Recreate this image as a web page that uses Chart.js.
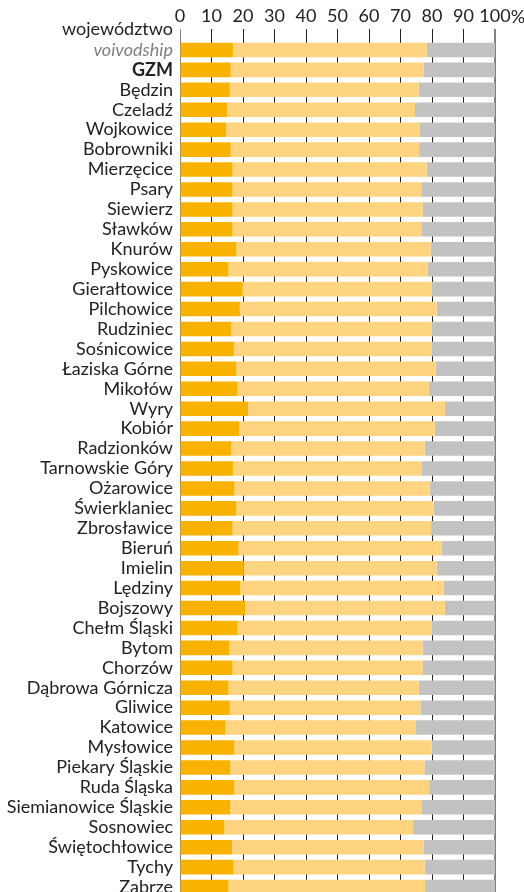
<!DOCTYPE html>
<html>
<head>
<meta charset="utf-8">
<script src="https://cdn.jsdelivr.net/npm/chart.js@4"></script>
<style>
  html, body { margin: 0; padding: 0; background: #fff; overflow: hidden; }
  #wrap { position: relative; width: 524px; height: 897px; }
</style>
</head>
<body>
<div id="wrap"><canvas id="c"></canvas></div>
<script>
const headerLabel = "województwo";
const categories = ["voivodship","GZM","Będzin","Czeladź","Wojkowice","Bobrowniki","Mierzęcice","Psary","Siewierz","Sławków","Knurów","Pyskowice","Gierałtowice","Pilchowice","Rudziniec","Sośnicowice","Łaziska Górne","Mikołów","Wyry","Kobiór","Radzionków","Tarnowskie Góry","Ożarowice","Świerklaniec","Zbrosławice","Bieruń","Imielin","Lędziny","Bojszowy","Chełm Śląski","Bytom","Chorzów","Dąbrowa Górnicza","Gliwice","Katowice","Mysłowice","Piekary Śląskie","Ruda Śląska","Siemianowice Śląskie","Sosnowiec","Świętochłowice","Tychy","Zabrze"];
const seriesA = [16.8,16.1,15.8,14.9,14.6,16.1,16.7,16.7,16.7,16.7,17.9,15.4,19.9,19.0,16.3,17.1,17.9,18.3,21.6,18.8,16.3,16.8,17.3,17.9,16.7,18.6,20.1,19.2,20.8,18.3,15.7,16.7,15.4,15.8,14.4,17.3,15.9,17.3,15.9,14.1,16.5,17.0,15.4];
const seriesB = [61.5,61.2,60.0,59.7,61.6,59.8,61.6,59.9,60.4,59.9,61.7,63.2,60.1,62.5,63.7,62.9,63.3,60.7,62.5,62.1,61.4,60.0,62.0,62.6,63.0,64.5,61.4,64.5,63.3,61.7,61.3,60.4,60.4,60.5,60.3,62.6,61.7,61.8,60.7,59.9,60.8,60.7,62.4];
const seriesC = [21.7,22.7,24.2,25.4,23.8,24.1,21.7,23.4,22.9,23.4,20.4,21.4,20.0,18.5,20.0,20.0,18.8,21.0,15.9,19.1,22.3,23.2,20.7,19.5,20.3,16.9,18.5,16.3,15.9,20.0,23.0,22.9,24.2,23.7,25.3,20.1,22.4,20.9,23.4,26.0,22.7,22.3,22.2];
const xTicks = [0,10,20,30,40,50,60,70,80,90,100];
const pctSuffix = "%";

const FONT = "Lato";
const FSIZE = 18;
const headerPlugin = {
  id: 'header',
  afterDraw(chart) {
    const ctx = chart.ctx;
    const xs = chart.scales.x;
    ctx.save();
    ctx.font = FSIZE + "px " + FONT;
    ctx.fillStyle = "#222";
    ctx.textAlign = "right";
    ctx.textBaseline = "middle";
    ctx.fillText(headerLabel, chart.chartArea.left - 7, 29);
    const lastVal = xTicks[xTicks.length - 1];
    const w = ctx.measureText(String(lastVal)).width;
    ctx.textAlign = "left";
    ctx.fillText(pctSuffix, xs.getPixelForValue(lastVal) + w / 2, 17);
    ctx.restore();
  }
};

new Chart(document.getElementById('c'), {
  type: 'bar',
  data: {
    labels: categories,
    datasets: [
      { data: seriesA, backgroundColor: '#FAB200' },
      { data: seriesB, backgroundColor: '#FED480' },
      { data: seriesC, backgroundColor: '#C2C2C2' }
    ]
  },
  options: {
    indexAxis: 'y',
    responsive: true,
    maintainAspectRatio: false,
    animation: false,
    layout: { padding: { left: 0, right: 29, top: 0, bottom: 0 } },
    datasets: { bar: { barPercentage: 0.73, categoryPercentage: 1.0, borderWidth: 0 } },
    plugins: { legend: { display: false }, tooltip: { enabled: false } },
    scales: {
      x: {
        position: 'top',
        stacked: true,
        min: 0, max: 100,
        afterBuildTicks(s) { s.ticks = xTicks.map(v => ({ value: v })); },
        afterFit(s) { s.height = 40; s.paddingLeft = 0; s.paddingRight = 0; },
        border: { display: false },
        grid: {
          color: (c) => (c.index === 0 || c.index === xTicks.length - 1) ? '#808080' : '#222',
          lineWidth: (c) => (c.index === xTicks.length - 1) ? 2 : 1,
          tickLength: 11,
          drawTicks: true
        },
        ticks: {
          padding: 2,
          color: '#222',
          font: { family: FONT, size: FSIZE },
          maxRotation: 0,
          autoSkip: false,
          callback: (v) => String(v)
        }
      },
      y: {
        stacked: true,
        afterFit(s) { s.width = 180; s.paddingTop = 0; s.paddingBottom = 0; },
        border: { display: false },
        grid: { display: false, drawTicks: false },
        ticks: {
          padding: 7,
          autoSkip: false,
          color: (c) => c.index === 0 ? '#808080' : '#222',
          font: (c) => c.index === 0 ? { family: FONT, size: FSIZE, style: 'italic' }
                     : c.index === 1 ? { family: FONT, size: FSIZE, weight: 'bold' }
                     : { family: FONT, size: FSIZE }
        }
      }
    }
  },
  plugins: [headerPlugin]
});
</script>
</body>
</html>
